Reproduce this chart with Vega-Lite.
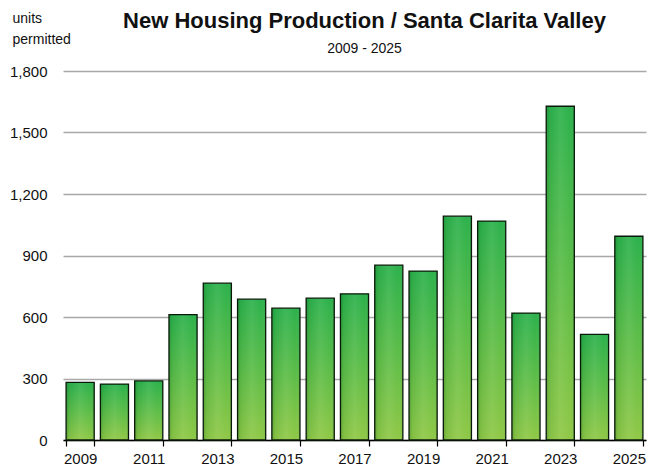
{
  "$schema": "https://vega.github.io/schema/vega-lite/v6.json",
  "width": 583,
  "height": 369,
  "autosize": "none",
  "padding": {"left": 63, "top": 71, "right": 3, "bottom": 35},
  "background": "white",
  "config": {
    "view": {"stroke": null},
    "font": "Liberation Sans, sans-serif"
  },
  "title": {
    "text": "New Housing Production / Santa Clarita Valley",
    "subtitle": "2009 - 2025",
    "font": "Liberation Sans, sans-serif",
    "subtitleFont": "Liberation Sans, sans-serif",
    "fontSize": 22,
    "fontWeight": "bold",
    "subtitleFontSize": 14,
    "anchor": "middle",
    "frame": "group",
    "dx": 10,
    "offset": -46,
    "subtitlePadding": 9,
    "color": "#111111",
    "subtitleColor": "#111111"
  },
  "data": {
    "values": [
      {"year": 2009, "units": 281},
      {"year": 2010, "units": 273},
      {"year": 2011, "units": 288},
      {"year": 2012, "units": 612},
      {"year": 2013, "units": 765},
      {"year": 2014, "units": 687},
      {"year": 2015, "units": 643},
      {"year": 2016, "units": 692},
      {"year": 2017, "units": 713},
      {"year": 2018, "units": 853},
      {"year": 2019, "units": 824},
      {"year": 2020, "units": 1092},
      {"year": 2021, "units": 1068},
      {"year": 2022, "units": 619},
      {"year": 2023, "units": 1628},
      {"year": 2024, "units": 515},
      {"year": 2025, "units": 994}
    ]
  },
  "encoding": {
    "x": {
      "field": "year",
      "type": "ordinal",
      "scale": {"paddingInner": 0.18, "paddingOuter": 0.09},
      "axis": {
        "title": null,
        "labelAngle": 0,
        "values": [2009, 2011, 2013, 2015, 2017, 2019, 2021, 2023, 2025],
        "tickBand": "extent",
        "domainColor": "#000000",
        "domainWidth": 1.5,
        "tickColor": "#000000",
        "tickWidth": 1.2,
        "tickSize": 6,
        "labelFontSize": 15,
        "labelPadding": 5,
        "labelColor": "#111111",
        "grid": false
      }
    },
    "y": {
      "field": "units",
      "type": "quantitative",
      "scale": {"domain": [0, 1800]},
      "axis": {
        "title": ["units", "permitted"],
        "titleAngle": 0,
        "titleAlign": "left",
        "titleBaseline": "top",
        "titleX": -51,
        "titleY": -60,
        "titleFontSize": 14,
        "titleFontWeight": "normal",
        "titleLineHeight": 21,
        "titleColor": "#111111",
        "values": [0, 300, 600, 900, 1200, 1500, 1800],
        "format": ",d",
        "ticks": false,
        "domain": false,
        "labelPadding": 16,
        "labelFontSize": 15,
        "labelColor": "#111111",
        "gridColor": "#a8a8a8",
        "gridWidth": 1.5
      }
    }
  },
  "layer": [
    {
      "mark": {
        "type": "bar",
        "color": {
          "gradient": "linear",
          "x1": 0, "y1": 0, "x2": 0, "y2": 1,
          "stops": [
            {"offset": 0, "color": "#2cb14c"},
            {"offset": 0.5, "color": "#5cbd48"},
            {"offset": 1, "color": "#90c846"}
          ]
        }
      }
    },
    {
      "mark": {
        "type": "bar",
        "color": {
          "gradient": "linear",
          "x1": 0, "y1": 0, "x2": 1, "y2": 0,
          "stops": [
            {"offset": 0, "color": "rgba(0,70,20,0.28)"},
            {"offset": 0.12, "color": "rgba(0,90,30,0.08)"},
            {"offset": 0.5, "color": "rgba(255,255,255,0.08)"},
            {"offset": 0.85, "color": "rgba(255,255,255,0.0)"},
            {"offset": 1, "color": "rgba(0,70,20,0.12)"}
          ]
        },
        "stroke": "#0a1a0a",
        "strokeWidth": 1.3
      }
    }
  ]
}
